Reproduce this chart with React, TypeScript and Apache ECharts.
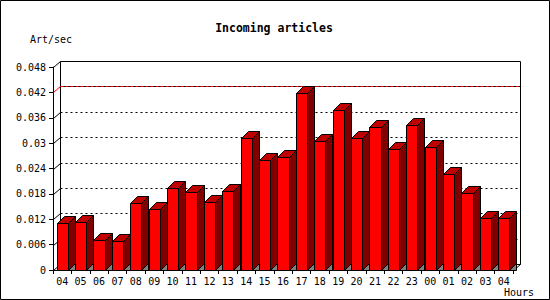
import React, { useEffect, useRef } from "react";
import * as echarts from "echarts";

const categories = ["04","05","06","07","08","09","10","11","12","13","14","15","16","17","18","19","20","21","22","23","00","01","02","03","04"];
const artPerSec = [0.0112, 0.0114, 0.0070, 0.0068, 0.0158, 0.0145, 0.0193, 0.0185, 0.0161, 0.0187, 0.0313, 0.0259, 0.0268, 0.0419, 0.0306, 0.0379, 0.0313, 0.0339, 0.0287, 0.0344, 0.0290, 0.0228, 0.0181, 0.0124, 0.0122];
const gridValues = [0, 0.006, 0.012, 0.018, 0.024, 0.030, 0.036, 0.042];
const redLineValue = 0.042;
const yMax = 0.048;
const yStep = 0.006;

const MONO = "'DejaVu Sans Mono', monospace";

export default function App() {
  const ref = useRef<HTMLDivElement>(null);
  useEffect(() => {
    if (!ref.current) return;
    const chart = echarts.init(ref.current, null, { renderer: "svg" });
    const px = (v: number) => Math.round(v) + 0.5;
    const WX = 7, WY = 6; // back wall offset
    const D = 7; // bar depth

    const option: any = {
      animation: false,
      backgroundColor: "#ffffff",
      grid: { left: 53, right: 37, top: 67, bottom: 30 },
      xAxis: {
        type: "category",
        data: categories,
        boundaryGap: true,
        axisLine: { show: true, lineStyle: { color: "#000", width: 1 } },
        axisTick: { show: true, length: 4, alignWithLabel: false, interval: 0, lineStyle: { color: "#000" } },
        axisLabel: { interval: 0, color: "#000", fontFamily: MONO, fontSize: 10, margin: 6 },
        splitLine: { show: false },
      },
      yAxis: {
        type: "value",
        min: 0,
        max: yMax,
        interval: yStep,
        axisLine: { show: true, lineStyle: { color: "#000", width: 1 } },
        axisTick: { show: true, length: 4, lineStyle: { color: "#000" } },
        axisLabel: { color: "#000", fontFamily: MONO, fontSize: 10, margin: 7 },
        splitLine: { show: false },
      },
      graphic: [
        { type: "rect", shape: { x: 0.5, y: 0.5, width: 549, height: 299 }, style: { fill: "none", stroke: "#000", lineWidth: 1 }, z: 100 },
        { type: "text", x: 274, y: 28, style: { text: "Incoming articles", fontFamily: MONO, fontWeight: "bold", fontSize: 11.5, fill: "#000", textAlign: "center", textVerticalAlign: "middle" } },
        { type: "text", x: 30, y: 39, style: { text: "Art/sec", fontFamily: MONO, fontSize: 10, fill: "#000", textAlign: "left", textVerticalAlign: "middle" } },
        { type: "text", x: 534, y: 292, style: { text: "Hours", fontFamily: MONO, fontSize: 10, fill: "#000", textAlign: "right", textVerticalAlign: "middle" } },
      ],
      series: [
        {
          type: "custom",
          z: 1,
          silent: true,
          data: gridValues.map((v, i) => [i, v]),
          encode: { x: -1, y: 1 },
          renderItem: (params: any, api: any) => {
            const cs = params.coordSys;
            const v = api.value(1);
            const y = api.coord([0, v])[1];
            const xL = cs.x, xR = cs.x + cs.width;
            const yTop = cs.y, yBot = cs.y + cs.height;
            const children: any[] = [];
            const isRed = Math.abs(v - redLineValue) < 1e-9;
            if (v > 0) {
              if (isRed) {
                children.push({ type: "line", shape: { x1: px(xL + WX), y1: px(y - WY), x2: px(xR + WX), y2: px(y - WY) }, style: { stroke: "#000", lineWidth: 1 } });
                children.push({ type: "line", shape: { x1: px(xL + WX), y1: px(y - WY), x2: px(xR + WX), y2: px(y - WY) }, style: { stroke: "#ff0000", lineWidth: 1, lineDash: [3, 2] } });
              } else {
                children.push({ type: "line", shape: { x1: px(xL + WX), y1: px(y - WY), x2: px(xR + WX), y2: px(y - WY) }, style: { stroke: "#000", lineWidth: 1, lineDash: [2, 3] } });
              }
            }
            children.push({ type: "line", shape: { x1: px(xL), y1: px(y), x2: px(xL + WX), y2: px(y - WY) }, style: { stroke: isRed ? "#ff0000" : "#000", lineWidth: 1 } });
            if (params.dataIndex === 0) {
              children.push({ type: "polyline", shape: { points: [[px(xL), px(yTop)], [px(xL + WX), px(yTop - WY)], [px(xR + WX), px(yTop - WY)], [px(xR + WX), px(yBot - WY)], [px(xR), px(yBot)]] }, style: { fill: "none", stroke: "#000", lineWidth: 1 } });
              children.push({ type: "line", shape: { x1: px(xL + WX), y1: px(yTop - WY), x2: px(xL + WX), y2: px(yBot - WY) }, style: { stroke: "#000", lineWidth: 1 } });
              children.push({ type: "line", shape: { x1: px(xL + WX), y1: px(yBot - WY), x2: px(xR + WX), y2: px(yBot - WY) }, style: { stroke: "#000", lineWidth: 1 } });
            }
            return { type: "group", children };
          },
        },
        {
          type: "custom",
          z: 2,
          data: artPerSec.map((v, i) => [i, v]),
          encode: { x: 0, y: 1 },
          renderItem: (params: any, api: any) => {
            const idx = api.value(0);
            const v = api.value(1);
            const top = api.coord([idx, v]);
            const base = api.coord([idx, 0]);
            const bw = api.size([1, 0])[0] * 0.6;
            const x0 = px(top[0] - bw / 2);
            const x1 = px(top[0] + bw / 2);
            const yt = px(top[1]);
            const yb = px(base[1]);
            const st = { stroke: "#000", lineWidth: 1 };
            return {
              type: "group",
              children: [
                { type: "polygon", shape: { points: [[x1, yb], [x1 + D, yb - D], [x1 + D, yb]] }, style: { fill: "#808080", ...st } },
                { type: "polygon", shape: { points: [[x1, yb], [x1 + D, yb - D], [x1 + D, yt - D], [x1, yt]] }, style: { fill: "#800000", ...st } },
                { type: "polygon", shape: { points: [[x0, yt], [x0 + D, yt - D], [x1 + D, yt - D], [x1, yt]] }, style: { fill: "#c00000", ...st } },
                { type: "rect", shape: { x: x0, y: yt, width: x1 - x0, height: yb - yt }, style: { fill: "#ff0000", ...st } },
              ],
            };
          },
        },
      ],
    };
    chart.setOption(option);
    return () => chart.dispose();
  }, []);
  return <div ref={ref} style={{ position: "absolute", left: 0, top: 0, width: 550, height: 300 }} />;
}
